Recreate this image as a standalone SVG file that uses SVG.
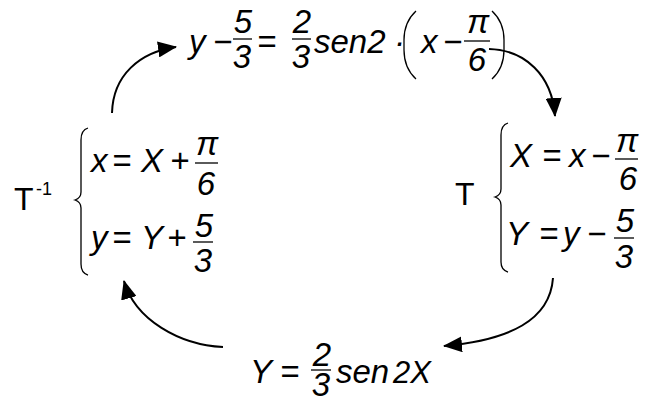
<svg xmlns="http://www.w3.org/2000/svg" width="655" height="401" viewBox="0 0 655 401">
<defs>
<style>
.m{font-family:"Liberation Sans",Arial,sans-serif;font-style:italic;font-size:33px;fill:#000}
.u{font-family:"Liberation Sans",Arial,sans-serif;font-size:32px;fill:#000}
.c{text-anchor:middle}
.bar{stroke:#000;stroke-width:1.3;fill:none}
.br{stroke:#000;stroke-width:1.3;fill:none}
.arr{stroke:#000;stroke-width:2;fill:none;marker-end:url(#ah)}
</style>
<marker id="ah" markerUnits="userSpaceOnUse" markerWidth="19" markerHeight="16" viewBox="0 0 19 16" refX="18" refY="8" orient="auto">
<path d="M0,0 L19,8 L0,16 Z" fill="#000"/>
</marker>
</defs>
<rect width="655" height="401" fill="#fff"/>
<g id="connectors">
<path class="arr" d="M112,113 C113,75 140,52 176,47"/>
<path class="arr" d="M489,49 C525,50 552,75 555,116"/>
<path class="arr" d="M553,278 C550,320 510,340 444,346"/>
<path class="arr" d="M223,347 C180,345 135,320 124,281"/>
</g>
<g id="top-equation">
<text class="m" x="189" y="53">y</text>
<text class="m" x="213" y="53">−</text>
<line class="bar" x1="233" y1="39" x2="252" y2="39"/>
<text class="m c" x="243" y="33">5</text>
<text class="m c" x="242" y="68">3</text>
<text class="m" x="257" y="53">=</text>
<line class="bar" x1="292" y1="39" x2="311" y2="39"/>
<text class="m c" x="302" y="33">2</text>
<text class="m c" x="301" y="68">3</text>
<text class="m" x="314" y="53">sen2</text>
<text class="m" x="394" y="53">·</text>
<path class="br" d="M416,11 Q404,22 404,40 L404,50 Q404,68 416,79"/>
<text class="m" x="421" y="53">x</text>
<text class="m" x="443" y="53">−</text>
<line class="bar" x1="464" y1="41" x2="490" y2="41"/>
<text class="m c" x="478" y="33">π</text>
<text class="m c" x="477" y="71">6</text>
<path class="br" d="M492,11 Q504,22 504,40 L504,50 Q504,68 492,79"/>
</g>
<g id="inverse-system">
<text class="u" x="14" y="210">T</text>
<text class="u" x="36" y="195" style="font-size:18px">-1</text>
<path class="br" d="M88,128 Q81,130 81,140 L81,192 Q81,198 75,200 Q81,202 81,208 L81,264 Q81,273 88,275"/>
<text class="m" x="91" y="172">x</text>
<text class="m" x="112" y="172">=</text>
<text class="m" x="141" y="172">X</text>
<text class="m" x="170" y="172">+</text>
<line class="bar" x1="195" y1="163" x2="218" y2="163"/>
<text class="m c" x="207" y="155">π</text>
<text class="m c" x="206" y="195">6</text>
<text class="m" x="91" y="249">y</text>
<text class="m" x="112" y="249">=</text>
<text class="m" x="141" y="249">Y</text>
<text class="m" x="167" y="249">+</text>
<line class="bar" x1="193" y1="242" x2="213" y2="242"/>
<text class="m c" x="204" y="237">5</text>
<text class="m c" x="203" y="272">3</text>
</g>
<g id="forward-system">
<text class="u" x="455" y="205">T</text>
<path class="br" d="M508,123 Q501,125 501,135 L501,189 Q501,195 495,197 Q501,199 501,205 L501,262 Q501,270 508,272"/>
<text class="m" x="510" y="167">X</text>
<text class="m" x="542" y="167">=</text>
<text class="m" x="569" y="167">x</text>
<text class="m" x="591" y="167">−</text>
<line class="bar" x1="615" y1="159" x2="638" y2="159"/>
<text class="m c" x="627" y="152">π</text>
<text class="m c" x="628" y="190">6</text>
<text class="m" x="506" y="245">Y</text>
<text class="m" x="539" y="245">=</text>
<text class="m" x="563" y="245">y</text>
<text class="m" x="587" y="245">−</text>
<line class="bar" x1="614" y1="238" x2="634" y2="238"/>
<text class="m c" x="625" y="232">5</text>
<text class="m c" x="624" y="268">3</text>
</g>
<g id="bottom-equation">
<text class="m" x="250" y="383">Y</text>
<text class="m" x="280" y="383">=</text>
<line class="bar" x1="311" y1="370" x2="331" y2="370"/>
<text class="m c" x="322" y="366">2</text>
<text class="m c" x="321" y="396">3</text>
<text class="m" x="336" y="383">sen</text>
<text class="m" x="393" y="383" style="font-size:31px">2X</text>
</g>
</svg>
